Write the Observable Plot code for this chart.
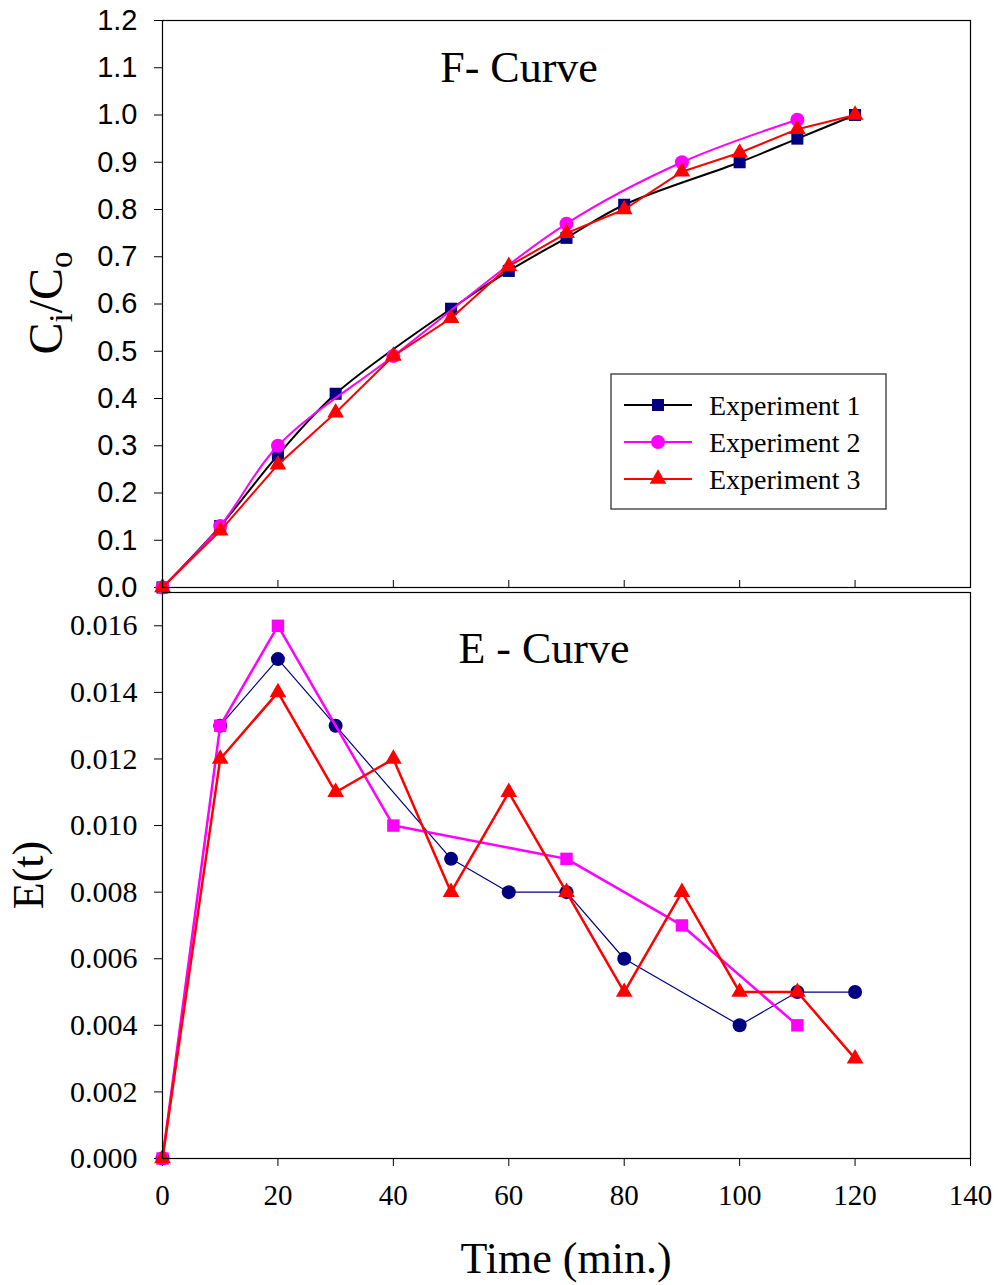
<!DOCTYPE html>
<html><head><meta charset="utf-8">
<script src="https://cdn.jsdelivr.net/npm/d3@7"></script>
<script src="https://cdn.jsdelivr.net/npm/@observablehq/plot@0.6"></script>
<style>
body{margin:0;background:#fff;}
#chart{position:relative;width:998px;height:1285px;background:#fff;}
#chart svg{position:absolute;left:0;overflow:visible;}
</style></head><body><div id="chart"></div>
<script>
// ---- data ----
const seriesNames = ["Experiment 1", "Experiment 2", "Experiment 3"];
const time1 = [0, 10, 20, 30, 50, 60, 70, 80, 100, 110, 120];
const fExp1 = [0, 0.13, 0.28, 0.41, 0.59, 0.67, 0.74, 0.81, 0.90, 0.95, 1.00];
const eExp1 = [0, 0.013, 0.015, 0.013, 0.009, 0.008, 0.008, 0.006, 0.004, 0.005, 0.005];
const time2 = [0, 10, 20, 40, 70, 90, 110];
const fExp2 = [0, 0.13, 0.30, 0.49, 0.77, 0.90, 0.99];
const eExp2 = [0, 0.013, 0.016, 0.010, 0.009, 0.007, 0.004];
const time3 = [0, 10, 20, 30, 40, 50, 60, 70, 80, 90, 100, 110, 120];
const fExp3 = [0, 0.12, 0.26, 0.37, 0.49, 0.57, 0.68, 0.75, 0.80, 0.88, 0.92, 0.97, 1.00];
const eExp3 = [0, 0.012, 0.014, 0.011, 0.012, 0.008, 0.011, 0.008, 0.005, 0.008, 0.005, 0.005, 0.003];
const xTicks = [0, 20, 40, 60, 80, 100, 120, 140];
const fTicks = [0, 0.1, 0.2, 0.3, 0.4, 0.5, 0.6, 0.7, 0.8, 0.9, 1.0, 1.1, 1.2];
const eTicks = [0, 0.002, 0.004, 0.006, 0.008, 0.010, 0.012, 0.014, 0.016];

const rows = (ts, vs) => ts.map((t, i) => ({t, v: vs[i]}));
const F1 = rows(time1, fExp1), F2 = rows(time2, fExp2), F3 = rows(time3, fExp3);
const E1 = rows(time1, eExp1), E2 = rows(time2, eExp2), E3 = rows(time3, eExp3);

const SERIF = "'Liberation Serif', 'Times New Roman', serif";
const SANS = "'Liberation Sans', Arial, sans-serif";
const NAVY = "#000080", MAG = "#ff00ff", RED = "#ff0000";

const container = document.getElementById("chart");

// ---- top panel: F-curve ----
const topPlot = Plot.plot({
  width: 998, height: 590,
  marginLeft: 162, marginRight: 28, marginTop: 20, marginBottom: 3,
  x: {domain: [0, 140]},
  y: {domain: [0, 1.2]},
  style: {fontFamily: SANS, background: "white", overflow: "visible"},
  marks: [
    Plot.axisY({ticks: fTicks, tickSize: 8, tickPadding: 17, tickFormat: d3.format(".1f"),
      label: null, fontSize: 29, stroke: "black"}),
    Plot.axisX({ticks: xTicks, tickSize: -7, tickFormat: () => "", label: null}),
    Plot.line(F1, {x: "t", y: "v", stroke: "black", strokeWidth: 2, curve: "catmull-rom"}),
    Plot.dot(F1, {x: "t", y: "v", symbol: "square", fill: NAVY, r: 6.8}),
    Plot.line(F2, {x: "t", y: "v", stroke: MAG, strokeWidth: 2, curve: "catmull-rom"}),
    Plot.dot(F2, {x: "t", y: "v", symbol: "circle", fill: MAG, r: 7}),
    Plot.line(F3, {x: "t", y: "v", stroke: RED, strokeWidth: 2}),
    Plot.dot(F3, {x: "t", y: "v", symbol: "triangle", fill: RED, r: 6.2}),
    Plot.frame({stroke: "black", strokeWidth: 1.2})
  ]
});
topPlot.style.top = "0px";
container.appendChild(topPlot);

// ---- bottom panel: E-curve ----
const bottomPlot = Plot.plot({
  width: 998, height: 695,
  marginLeft: 162, marginRight: 28, marginTop: 2, marginBottom: 127,
  x: {domain: [0, 140]},
  y: {domain: [0, 0.017]},
  style: {fontFamily: SERIF, background: "transparent", overflow: "visible"},
  marks: [
    Plot.axisY({ticks: eTicks, tickSize: 8, tickPadding: 17, tickFormat: d3.format(".3f"),
      label: null, fontSize: 30, stroke: "black"}),
    Plot.axisX({ticks: xTicks, tickSize: 8, tickPadding: 18, tickFormat: d3.format("d"),
      label: null, fontSize: 29, stroke: "black"}),
    Plot.line(E1, {x: "t", y: "v", stroke: NAVY, strokeWidth: 1.2}),
    Plot.dot(E1, {x: "t", y: "v", symbol: "circle", fill: NAVY, r: 7}),
    Plot.line(E2, {x: "t", y: "v", stroke: MAG, strokeWidth: 2.5}),
    Plot.dot(E2, {x: "t", y: "v", symbol: "square", fill: MAG, r: 7}),
    Plot.line(E3, {x: "t", y: "v", stroke: RED, strokeWidth: 2.5}),
    Plot.dot(E3, {x: "t", y: "v", symbol: "triangle", fill: RED, r: 6.2}),
    Plot.frame({stroke: "black", strokeWidth: 1.2})
  ]
});
bottomPlot.style.top = "590px";
container.appendChild(bottomPlot);

// fonts of tick labels: sans for the F-curve y axis, serif for the rest
const ts = d3.select(topPlot);
const bs = d3.select(bottomPlot);
ts.selectAll("g, text").style("font-family", SANS);
bs.selectAll("g, text").style("font-family", SERIF);

// ---- titles, axis labels, legend ----
ts.append("text").attr("x", 519).attr("y", 67).attr("text-anchor", "middle")
  .attr("dominant-baseline", "central").style("font-family", SERIF).attr("font-size", 44)
  .attr("fill", "black").text("F- Curve");

// y label Ci/Co rotated
const yl = ts.append("text").attr("transform", "translate(62,303) rotate(-90)")
  .attr("text-anchor", "middle").style("font-family", SERIF).attr("font-size", 48).attr("fill", "black");
yl.append("tspan").text("C");
yl.append("tspan").attr("font-size", 33).attr("dy", 10).text("i");
yl.append("tspan").attr("dy", -10).text("/C");
yl.append("tspan").attr("font-size", 33).attr("dy", 10).text("o");

// legend
const legendItems = [
  {name: seriesNames[0], line: "black", fill: NAVY, sym: d3.symbolSquare, r: 6.8},
  {name: seriesNames[1], line: MAG, fill: MAG, sym: d3.symbolCircle, r: 7},
  {name: seriesNames[2], line: RED, fill: RED, sym: d3.symbolTriangle, r: 6.2}
];
const lg = ts.append("g");
lg.append("rect").attr("x", 611).attr("y", 374).attr("width", 275).attr("height", 135)
  .attr("fill", "white").attr("stroke", "#333").attr("stroke-width", 1.3);
legendItems.forEach((d, i) => {
  const y = 405 + i * 37;
  lg.append("line").attr("x1", 624).attr("x2", 692).attr("y1", y).attr("y2", y)
    .attr("stroke", d.line).attr("stroke-width", 2);
  lg.append("path").attr("transform", `translate(658,${y})`)
    .attr("d", d3.symbol(d.sym, d.r * d.r * Math.PI)()).attr("fill", d.fill);
  lg.append("text").attr("x", 709).attr("y", y).attr("text-anchor", "start")
    .attr("dominant-baseline", "central")
    .style("font-family", SERIF).attr("font-size", 28).attr("fill", "black").text(d.name);
});

bs.append("text").attr("x", 544).attr("y", 58).attr("text-anchor", "middle")
  .attr("dominant-baseline", "central").style("font-family", SERIF).attr("font-size", 44)
  .attr("fill", "black").text("E - Curve");
bs.append("text").attr("transform", "translate(28,285) rotate(-90)")
  .attr("text-anchor", "middle").attr("dominant-baseline", "central")
  .style("font-family", SERIF).attr("font-size", 44).attr("fill", "black").text("E(t)");
bs.append("text").attr("x", 566).attr("y", 668).attr("text-anchor", "middle")
  .attr("dominant-baseline", "central").style("font-family", SERIF).attr("font-size", 44)
  .attr("fill", "black").text("Time (min.)");
</script></body></html>
